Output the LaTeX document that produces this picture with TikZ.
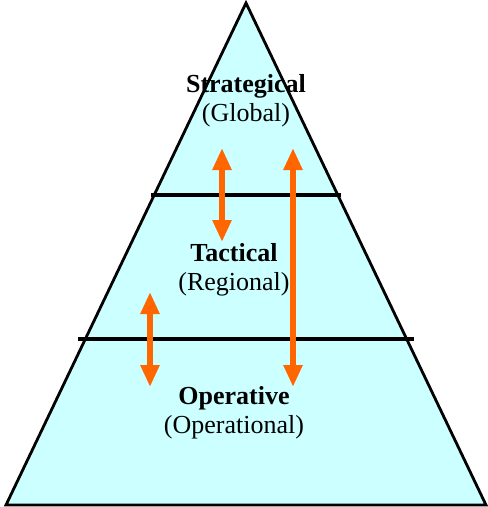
\documentclass[tikz,border=0pt]{standalone}
\usepackage{fontspec}
\setmainfont{Liberation Serif}
\usetikzlibrary{arrows.meta}
\definecolor{pyrfill}{RGB}{204,255,255}
\definecolor{arrorange}{RGB}{255,102,0}

\begin{document}
\begin{tikzpicture}[x=1pt,y=-1pt,
    lvltitle/.style={anchor=base,font=\fontsize{26}{29}\bfseries},
    lvlsub/.style={anchor=base,font=\fontsize{26}{29}\selectfont},
    flow/.style={arrorange,line width=6pt,
        {Triangle[width=18pt,length=22pt]}-{Triangle[width=18pt,length=22pt]}}]
    \useasboundingbox (0,0) rectangle (488,507);

    % pyramid
    \coordinate (apex) at (246,3);
    \coordinate (baseL) at (6,505);
    \coordinate (baseR) at (486,505);
    \draw[line width=2.8pt, line join=miter, fill=pyrfill] (baseL) -- (apex) -- (baseR) -- cycle;

    % level separators
    \coordinate (sepAL) at (151,195);
    \coordinate (sepAR) at (341,195);
    \coordinate (sepBL) at (78,339);
    \coordinate (sepBR) at (414,339);
    \draw[line width=3.4pt] (sepAL) -- (sepAR);
    \draw[line width=3.4pt] (sepBL) -- (sepBR);

    % labels
    \node[lvltitle] (strat) at (246,92) {Strategical};
    \node[lvlsub] (stratsub) at (246,121) {(Global)};
    \node[lvltitle] (tact) at (234,261) {Tactical};
    \node[lvlsub] (tactsub) at (234,290) {(Regional)};
    \node[lvltitle] (oper) at (234,404) {Operative};
    \node[lvlsub] (opersub) at (234,433) {(Operational)};

    % information flow
    \coordinate (fa1) at (222,148);
    \coordinate (fa2) at (222,242);
    \coordinate (fb1) at (293,148);
    \coordinate (fb2) at (293,387);
    \coordinate (fc1) at (150,292);
    \coordinate (fc2) at (150,387);
    \draw[flow] (fa1) -- (fa2);
    \draw[flow] (fb1) -- (fb2);
    \draw[flow] (fc1) -- (fc2);
\end{tikzpicture}
\end{document}
